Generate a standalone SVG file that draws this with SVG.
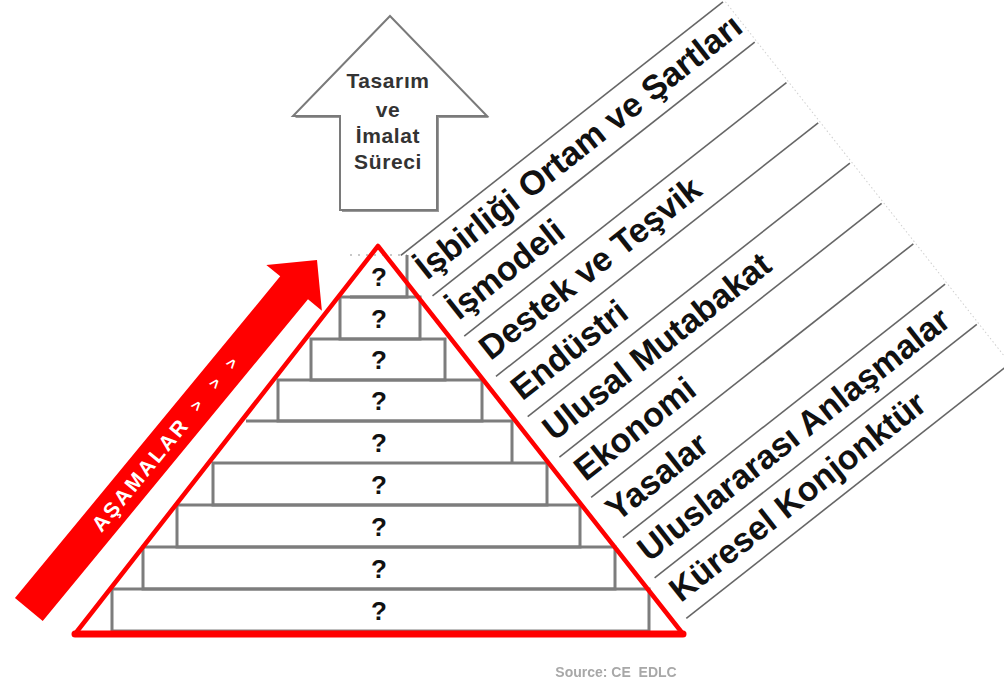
<svg xmlns="http://www.w3.org/2000/svg" width="1004" height="687" viewBox="0 0 1004 687">
  <defs>
    <filter id="soft" x="-5%" y="-30%" width="110%" height="160%">
      <feGaussianBlur stdDeviation="0.6"/>
    </filter>
  </defs>
  <style>
    .step { fill: none; stroke: #7d7d7d; stroke-width: 3; }
    .q { font-family: "Liberation Sans", Arial, sans-serif; font-weight: bold; font-size: 26px; fill: #111; text-anchor: middle; }
    .band { fill: none; stroke: #666; stroke-width: 1.6; }
    .lbl { font-family: "Liberation Sans", Arial, sans-serif; font-weight: bold; font-size: 34px; fill: #111; }
    .up-txt { font-family: "Liberation Sans", Arial, sans-serif; font-weight: bold; font-size: 21px; fill: #333; text-anchor: middle; letter-spacing: 0.6px; }
    .stage { font-family: "Liberation Sans", Arial, sans-serif; font-weight: bold; fill: #fff; }
  </style>

  <rect width="1004" height="687" fill="#fff"/>

  <!-- process arrow -->
  <g id="process-arrow">
    <polygon points="392,18 489,118 439,118 439,212 342,212 342,118 295,118" fill="#9a9a9a"/>
    <polygon points="390,16 487,116 437,116 437,210 340,210 340,116 293,116" fill="#fff" stroke="#7a7a7a" stroke-width="2" stroke-linejoin="miter"/>
    <text class="up-txt" x="388" y="88">Tasarım</text>
    <text class="up-txt" x="388" y="117">ve</text>
    <text class="up-txt" x="388" y="143">İmalat</text>
    <text class="up-txt" x="388" y="169">Süreci</text>
  </g>

  <!-- pyramid steps -->
  <g id="step-1">
    <path d="M350,255 H407" fill="none" stroke="#c8c8c8" stroke-width="2" stroke-dasharray="2 6"/>
    <path class="step" d="M407,255 V297 H350"/>
    <text class="q" x="379" y="286">?</text>
  </g>
  <g id="step-2">
    <rect class="step" x="340" y="297" width="80" height="42"/>
    <text class="q" x="379" y="328">?</text>
  </g>
  <g id="step-3">
    <rect class="step" x="311" y="339" width="134" height="41"/>
    <text class="q" x="379" y="369">?</text>
  </g>
  <g id="step-4">
    <rect class="step" x="278" y="380" width="204" height="41"/>
    <text class="q" x="379" y="410">?</text>
  </g>
  <g id="step-5">
    <path class="step" d="M246,421 H512 V463"/>
    <text class="q" x="379" y="452">?</text>
  </g>
  <g id="step-6">
    <rect class="step" x="213" y="463" width="334" height="42"/>
    <text class="q" x="379" y="494">?</text>
  </g>
  <g id="step-7">
    <rect class="step" x="177" y="505" width="403" height="42"/>
    <text class="q" x="379" y="536">?</text>
  </g>
  <g id="step-8">
    <rect class="step" x="143" y="547" width="472" height="42"/>
    <text class="q" x="379" y="578">?</text>
  </g>
  <g id="step-9">
    <rect class="step" x="112" y="589" width="537" height="42"/>
    <text class="q" x="379" y="620">?</text>
  </g>

  <!-- pyramid outline -->
  <g id="pyramid-outline">
    <polygon points="378,246 683,634 75,634" fill="none" stroke="#ff0000" stroke-width="4.5" stroke-linejoin="round"/>
    <line x1="75" y1="634" x2="683" y2="634" stroke="#ff0000" stroke-width="7" stroke-linecap="round"/>
  </g>

  <!-- stages arrow -->
  <g id="stages-arrow" transform="translate(317,260) rotate(-50.5)">
    <polygon points="0,0 -36,-36 -36,-18 -453,-18 -453,18 -36,18 -36,36" fill="#ff0000"/>
    <text class="stage" x="-348" y="7.5" font-size="21" letter-spacing="2.5">AŞAMALAR</text>
    <text class="stage" x="-189" y="5" font-size="16" text-anchor="middle">&gt;</text>
    <text class="stage" x="-160" y="5" font-size="16" text-anchor="middle">&gt;</text>
    <text class="stage" x="-134" y="5" font-size="16" text-anchor="middle">&gt;</text>
  </g>

  <!-- factor bands, laid out along the pyramid's right side -->
  <g id="factor-bands" transform="rotate(-38.2)">
    <g id="band-lines">
      <line class="band" x1="157" y1="448.6" x2="567" y2="448.6"/>
      <line class="band" x1="157" y1="499.9" x2="567" y2="499.9"/>
      <line class="band" x1="157" y1="551.2" x2="567" y2="551.2"/>
      <line class="band" x1="157" y1="602.5" x2="567" y2="602.5"/>
      <line class="band" x1="157" y1="653.8" x2="567" y2="653.8"/>
      <line class="band" x1="157" y1="705.1" x2="567" y2="705.1"/>
      <line class="band" x1="157" y1="756.4" x2="567" y2="756.4"/>
      <line class="band" x1="157" y1="807.7" x2="567" y2="807.7"/>
      <line class="band" x1="157" y1="859.0" x2="567" y2="859.0"/>
      <line class="band" x1="157" y1="910.3" x2="567" y2="910.3"/>
      <line x1="569" y1="446" x2="569" y2="912" stroke="#d0d0d0" stroke-width="1" stroke-dasharray="1.5 2.5"/>
    </g>
    <g id="band-1"><text class="lbl" x="162" y="484.6" font-size="33">İşbirliği Ortam ve Şartları</text></g>
    <g id="band-2"><text class="lbl" x="162" y="535.9">İşmodeli</text></g>
    <g id="band-3"><text class="lbl" x="162" y="587.2">Destek ve Teşvik</text></g>
    <g id="band-4"><text class="lbl" x="162" y="638.5">Endüstri</text></g>
    <g id="band-5"><text class="lbl" x="162" y="689.8">Ulusal Mutabakat</text></g>
    <g id="band-6"><text class="lbl" x="162" y="741.1">Ekonomi</text></g>
    <g id="band-7"><text class="lbl" x="162" y="792.4">Yasalar</text></g>
    <g id="band-8"><text class="lbl" x="162" y="843.7">Uluslararası Anlaşmalar</text></g>
    <g id="band-9"><text class="lbl" x="162" y="895.0">Küresel Konjonktür</text></g>
  </g>

  <!-- source note -->
  <text x="616" y="677" font-family="'Liberation Sans', Arial, sans-serif" font-weight="bold" font-size="14" fill="#a8a8a8" text-anchor="middle" filter="url(#soft)" xml:space="preserve">Source: CE  EDLC</text>
</svg>
